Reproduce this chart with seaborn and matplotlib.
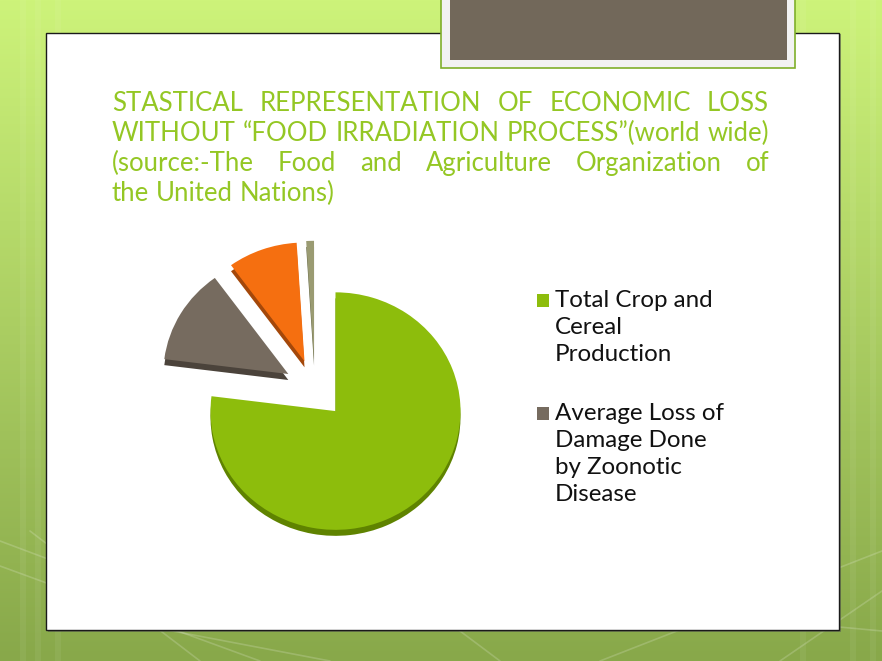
import numpy as np
import matplotlib
matplotlib.use("Agg")
import matplotlib.pyplot as plt
import seaborn as sns
from matplotlib.patches import Rectangle

# ---- data ----
categories = ["Total Crop and Cereal Production",
              "Average Loss of Damage Done by Zoonotic Disease",
              "Other Loss", "Minor Loss"]
values = [77, 13, 9, 1]
legend_labels = ["Total Crop and\nCereal\nProduction",
                 "Average Loss of\nDamage Done\nby Zoonotic\nDisease"]
title_lines = ["STASTICAL REPRESENTATION OF ECONOMIC LOSS",
               "WITHOUT \u201cFOOD IRRADIATION PROCESS\u201d(world wide)",
               "(source:-The Food and Agriculture Organization of",
               "the United Nations)"]
colors = ["#8DBD0C", "#766B5F", "#F56F10", "#9A9B72"]
dark_colors = ["#5F8300", "#4B433B", "#A4480A", "#6A6B4C"]
title_color = "#94C724"

sns.set_theme(style="white")
plt.rcParams['font.family'] = ['Lato', 'DejaVu Sans']

W, H = 882, 661
fig = plt.figure(figsize=(W / 100, H / 100), dpi=100)
ax = fig.add_axes([0, 0, 1, 1])
ax.axis('off')

# ---- slide background ----
top = np.array([205, 243, 122]) / 255
bot = np.array([136, 168, 74]) / 255
t = np.linspace(0, 1, 256)[:, None]
grad = (top[None, :] * (1 - t) + bot[None, :] * t)[:, None, :]
ax.imshow(grad, extent=[0, W, 0, H], aspect='auto', zorder=0, origin='upper')
for (x0, y0, x1, y1) in [(0, 95, 260, 0), (30, 130, 200, 0), (600, 0, 882, 110),
                         (560, 60, 882, 30), (0, 120, 80, 90), (780, 0, 882, 70),
                         (120, 40, 330, 0), (420, 60, 500, 0)]:
    ax.plot([x0, x1], [y0, y1], color='white', alpha=0.18, lw=1.2, zorder=0.5)
for xs in [20, 35, 55, 800, 850, 870]:
    ax.add_patch(Rectangle((xs, 0), 6, H, color='white', alpha=0.06, lw=0, zorder=0.5))

# white content box
ax.add_patch(Rectangle((48, H - 632), 793, 598, facecolor='#555555', lw=0, zorder=1, alpha=0.5))
ax.add_patch(Rectangle((46, H - 630), 793, 597, facecolor='white', edgecolor='#1a1a1a', lw=1.0, zorder=1.1))

# dark header box
ax.add_patch(Rectangle((441, H - 68), 354, 70, facecolor='#F2F2F2', edgecolor='#7FAF2A', lw=1.2, zorder=2))
ax.add_patch(Rectangle((450, H - 60), 337, 62, facecolor='#72685A', lw=0, zorder=2.1))

ax.set_xlim(0, W)
ax.set_ylim(0, H)

# ---- title (justified) ----
renderer = fig.canvas.get_renderer()


def text_width(s, fs, weight='normal'):
    tt = ax.text(0, 0, s, fontsize=fs, fontweight=weight)
    w = tt.get_window_extent(renderer).width
    tt.remove()
    return w


x_left, x_right = 112, 769
tw = 'normal'
fs_title = 17 * 652 / text_width(title_lines[1], 17, tw)
space_w = text_width("a a", fs_title, tw) - text_width("aa", fs_title, tw)
baselines = [111, 141, 171, 201]
for i, (line, yb) in enumerate(zip(title_lines, baselines)):
    words = line.split(' ')
    widths = [text_width(w, fs_title, tw) for w in words]
    justify = i < len(title_lines) - 1
    if justify and len(words) > 1:
        gap = max(space_w, (x_right - x_left - sum(widths)) / (len(words) - 1))
    else:
        gap = space_w
    x = x_left
    for w, wd in zip(words, widths):
        ax.text(x, H - yb, w, fontsize=fs_title, color=title_color, fontweight=tw,
                ha='left', va='baseline', zorder=5)
        x += wd + gap

# ---- legend ----
fs_leg = 15 * 158 / text_width("Total Crop and", 15)
leg_first_baseline = [307, 420]
line_h = 27
for lab, col, yb in zip(legend_labels, colors[:2], leg_first_baseline):
    ax.add_patch(Rectangle((537, H - yb), 12, 13, facecolor=col, lw=0, zorder=5))
    for k, ln in enumerate(lab.split('\n')):
        ax.text(555, H - (yb + k * line_h), ln, fontsize=fs_leg, color='#111111',
                ha='left', va='baseline', zorder=5)

# ---- pie (slightly tilted: vertical squash) ----
pax = fig.add_axes([0, 0, 1, 1], zorder=3)
pax.patch.set_alpha(0)
s = 0.95
cx, cy_img, R = 315, 389, 125
cy = H - cy_img
explode = [31] * len(values)
pax.pie(values, colors=dark_colors, startangle=90, counterclock=False,
        center=(cx, cy - 6 / s), radius=R, explode=explode,
        wedgeprops=dict(linewidth=0, zorder=3))
wedges, _ = pax.pie(values, colors=colors, startangle=90, counterclock=False,
                    center=(cx, cy), radius=R, explode=explode,
                    wedgeprops=dict(linewidth=0, zorder=3.5))
pax.set_aspect('auto')
pax.set_xlim(0, W)
pax.set_ylim(cy - cy / s, cy + (H - cy) / s)
pax.axis('off')

fig.savefig("out.png", dpi=100)
